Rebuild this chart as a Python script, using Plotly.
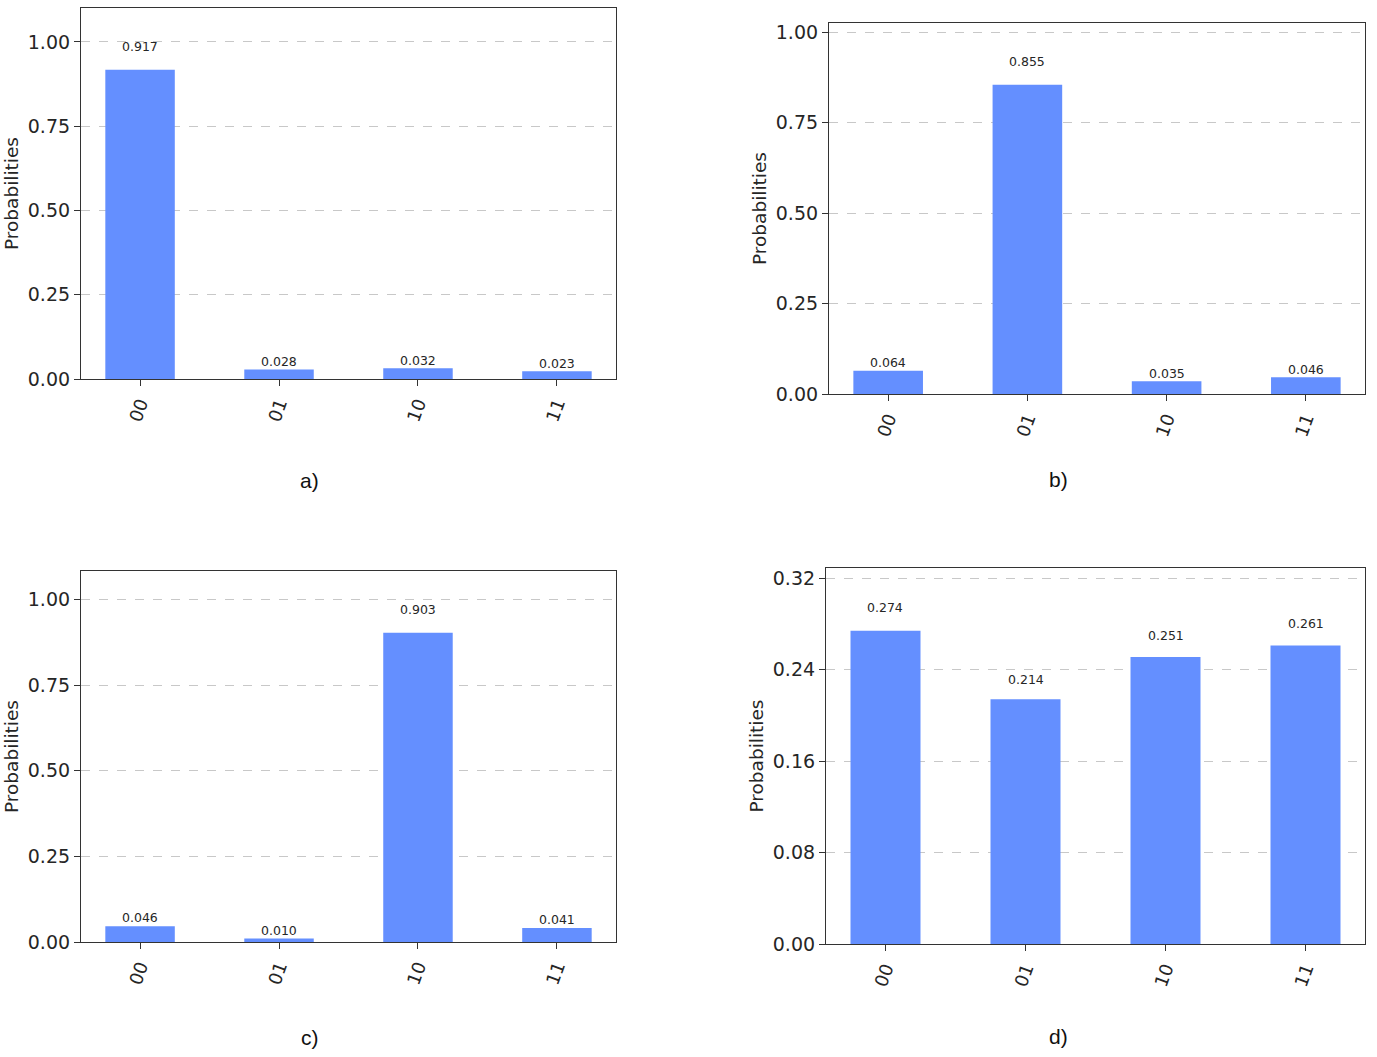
import plotly.graph_objects as go

# ---- data ----
states = ["00", "01", "10", "11"]
prob_a = [0.917, 0.028, 0.032, 0.023]
prob_b = [0.064, 0.855, 0.035, 0.046]
prob_c = [0.046, 0.010, 0.903, 0.041]
prob_d = [0.274, 0.214, 0.251, 0.261]
panel_labels = ["a)", "b)", "c)", "d)"]
yticks_prob = [0.0, 0.25, 0.50, 0.75, 1.00]
yticks_d = [0.0, 0.08, 0.16, 0.24, 0.32]

W, H = 1377, 1057
BAR_COLOR = "#648fff"
TEXT_COLOR = "#262626"

# panel boxes in pixels: (left, right, top, bottom)
boxes = [
    (81, 616, 8, 379),
    (829, 1365, 23, 394),
    (81, 616, 571, 942),
    (826, 1365, 568, 944),
]
# panel caption centres in pixels
caption_pos = [(309.5, 481), (1058.5, 480), (309.5, 1037), (1058.5, 1036)]
series = [prob_a, prob_b, prob_c, prob_d]
ticksets = [yticks_prob, yticks_prob, yticks_prob, yticks_d]
xpos = list(range(len(states)))

fig = go.Figure()
layout = dict(
    width=W, height=H,
    margin=dict(l=0, r=0, t=0, b=0, autoexpand=False),
    paper_bgcolor="white", plot_bgcolor="white",
    showlegend=False,
    font=dict(family="DejaVu Sans", color=TEXT_COLOR),
    annotations=[],
)

for i, (vals, box, ticks, lab, cpos) in enumerate(zip(series, boxes, ticksets, panel_labels, caption_pos)):
    n = "" if i == 0 else str(i + 1)
    xa, ya = "x" + n, "y" + n
    left, right, top, bottom = box
    fig.add_trace(go.Bar(
        x=xpos, y=vals, width=0.5, marker=dict(color=BAR_COLOR, line=dict(width=0)),
        xaxis=xa, yaxis=ya, hovertext=states, hoverinfo="text+y",
    ))
    layout["xaxis" + n] = dict(
        domain=[left / W, right / W], anchor=ya, automargin=False,
        range=[-0.425, 3.425],
        tickvals=xpos, ticktext=states,
        showline=True, mirror=True, linecolor="#333333", linewidth=1.2,
        ticks="outside", ticklen=6, tickcolor="#333333",
        tickangle=-70, tickfont=dict(size=18, color=TEXT_COLOR),
        showgrid=False, zeroline=False,
    )
    layout["yaxis" + n] = dict(
        domain=[1 - bottom / H, 1 - top / H], anchor=xa, automargin=False,
        range=[0, 1.2 * max(vals)],
        tickvals=ticks, tickformat=".2f",
        showline=True, mirror=True, linecolor="#333333", linewidth=1.2,
        ticks="outside", ticklen=6, tickcolor="#333333",
        tickfont=dict(size=19, color=TEXT_COLOR),
        showgrid=True, gridcolor="#c8c8c8", griddash="dash", gridwidth=1,
        zeroline=False,
        title=dict(text="Probabilities", font=dict(size=18.5, color=TEXT_COLOR), standoff=4),
    )
    for xp, v in zip(xpos, vals):
        layout["annotations"].append(dict(
            x=xp, y=1.05 * v, xref=xa, yref=ya, text=f"{v:.3f}",
            showarrow=False, yanchor="bottom", xanchor="center",
            font=dict(size=12.5, color=TEXT_COLOR), yshift=-2,
        ))
    # panel caption
    layout["annotations"].append(dict(
        x=cpos[0] / W, y=1 - cpos[1] / H, xref="paper", yref="paper",
        text=lab, showarrow=False, xanchor="center", yanchor="middle",
        font=dict(family="Liberation Sans, Arial", size=21, color="#111111"),
    ))

fig.update_layout(**layout)
post = (
    "document.body.style.margin='0px';document.body.style.padding='0px';"
    "document.body.style.overflow='hidden';"
)
fig.write_html("out.html", post_script=post, config={"displayModeBar": False})
